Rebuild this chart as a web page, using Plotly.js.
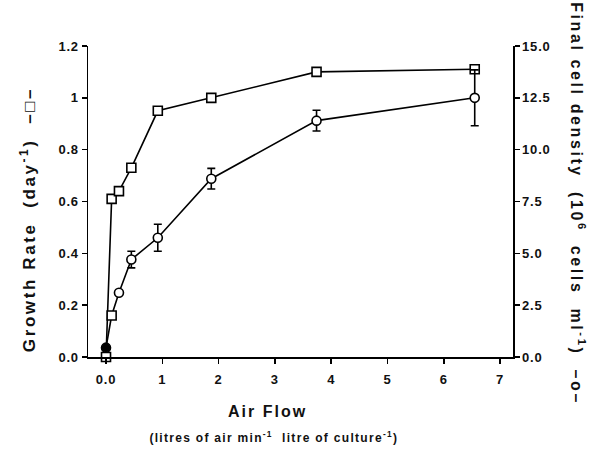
<!DOCTYPE html>
<html>
<head>
<meta charset="utf-8">
<script src="https://cdn.plot.ly/plotly-3.0.1.min.js"></script>
<style>
html,body{margin:0;padding:0;background:#fff;}
#chart{width:592px;height:450px;}
#chart .annotation-text{letter-spacing:2px;}
#chart .annotation[data-index="0"] .annotation-text{letter-spacing:2.6px;}
#chart .annotation[data-index="1"] .annotation-text{letter-spacing:2.6px;}
#chart .annotation[data-index="3"] .annotation-text{letter-spacing:1.3px;}
#chart .xtick text, #chart .ytick text, #chart .y2tick text{letter-spacing:0.8px;}
</style>
</head>
<body>
<div id="chart"></div>
<script>
// Data
const airFlow = [0, 0.1, 0.23, 0.45, 0.92, 1.87, 3.74, 6.55];
const growthRate = [0, 0.61, 0.64, 0.73, 0.95, 1.0, 1.1, 1.11];
const cellDensity = [0.45, 2.0, 3.1, 4.7, 5.75, 8.6, 11.4, 12.5];
const cellDensityErr = [0, 0, 0, 0.4, 0.65, 0.5, 0.5, 1.35];
const cellSymbols = ['circle', 'square', 'circle', 'circle', 'circle', 'circle', 'circle', 'circle'];
const cellFill = ['black', 'white', 'white', 'white', 'white', 'white', 'white', 'white'];

const xTickVals = [0, 1, 2, 3, 4, 5, 6, 7];
const xTickText = ['0.0', '1', '2', '3', '4', '5', '6', '7'];
const yTickVals = [0, 0.2, 0.4, 0.6, 0.8, 1, 1.2];
const yTickText = ['0.0', '0.2', '0.4', '0.6', '0.8', '1', '1.2'];
const y2TickVals = [0, 2.5, 5, 7.5, 10, 12.5, 15];
const y2TickText = ['0.0', '2.5', '5.0', '7.5', '10.0', '12.5', '15.0'];

const FONT = 'Liberation Sans, Arial, Helvetica, sans-serif';
const NB = '\u00A0';

const traces = [
  {
    x: airFlow, y: growthRate, type: 'scatter', mode: 'lines+markers',
    line: {color: 'black', width: 1.6},
    marker: {symbol: 'square', size: 9, color: 'white', line: {color: 'black', width: 1.6}},
    yaxis: 'y', showlegend: false, cliponaxis: false
  },
  {
    x: airFlow, y: cellDensity, type: 'scatter', mode: 'lines+markers',
    line: {color: 'black', width: 1.6},
    marker: {symbol: cellSymbols, size: 9, color: cellFill, line: {color: 'black', width: 1.6}},
    error_y: {type: 'data', array: cellDensityErr, visible: true, color: 'black', thickness: 1.6, width: 4},
    yaxis: 'y2', showlegend: false, cliponaxis: false
  }
];

const tickFont = {family: FONT, size: 13, color: '#111', weight: 'bold'};

const layout = {
  width: 592, height: 450,
  margin: {l: 88, r: 79, t: 46, b: 93},
  paper_bgcolor: 'white', plot_bgcolor: 'white',
  font: {family: FONT, color: '#111'},
  xaxis: {
    range: [-0.32, 7.23], showgrid: false, zeroline: false,
    showline: true, linecolor: 'black', linewidth: 1.5,
    ticks: 'outside', ticklen: 5, tickwidth: 1.5, tickcolor: 'black',
    tickvals: xTickVals, ticktext: xTickText, tickfont: tickFont, ticklabelstandoff: 5
  },
  yaxis: {
    range: [0, 1.2], showgrid: false, zeroline: false,
    showline: true, linecolor: 'black', linewidth: 1.5,
    ticks: 'outside', ticklen: 5, tickwidth: 1.5, tickcolor: 'black',
    tickvals: yTickVals, ticktext: yTickText, tickfont: tickFont
  },
  yaxis2: {
    range: [0, 15], overlaying: 'y', side: 'right', showgrid: false, zeroline: false,
    showline: true, linecolor: 'black', linewidth: 1.5,
    ticks: 'outside', ticklen: 5, tickwidth: 1.5, tickcolor: 'black',
    tickvals: y2TickVals, ticktext: y2TickText, tickfont: tickFont
  },
  annotations: [
    {
      text: 'Growth' + NB + 'Rate' + NB + NB + '(day<sup>-1</sup>)' + NB + NB + '–□–',
      xref: 'paper', yref: 'paper', x: -0.14, y: 0.44, textangle: -90,
      xanchor: 'center', yanchor: 'middle',
      showarrow: false, font: {family: FONT, size: 17, color: '#111', weight: 'bold'}
    },
    {
      text: 'Final' + NB + 'cell' + NB + 'density' + NB + NB + '(10<sup>6</sup>' + NB + NB + 'cells' + NB + NB + 'ml<sup>-1</sup>)' + NB + NB + '–o–',
      xref: 'paper', yref: 'paper', x: 1.153, y: 0.495, textangle: 90,
      xanchor: 'center', yanchor: 'middle',
      showarrow: false, font: {family: FONT, size: 16, color: '#111', weight: 'bold'}
    },
    {
      text: 'Air' + NB + 'Flow',
      xref: 'paper', yref: 'paper', x: 0.424, y: -0.174,
      xanchor: 'center', yanchor: 'middle',
      showarrow: false, font: {family: FONT, size: 16, color: '#111', weight: 'bold'}
    },
    {
      text: '(litres' + NB + 'of' + NB + 'air' + NB + 'min<sup>-1</sup>' + NB + NB + 'litre' + NB + 'of' + NB + 'culture<sup>-1</sup>)',
      xref: 'paper', yref: 'paper', x: 0.438, y: -0.257,
      xanchor: 'center', yanchor: 'middle',
      showarrow: false, font: {family: FONT, size: 12, color: '#111', weight: 'bold'}
    }
  ]
};

Plotly.newPlot('chart', traces, layout, {displayModeBar: false, staticPlot: true});
</script>
</body>
</html>
